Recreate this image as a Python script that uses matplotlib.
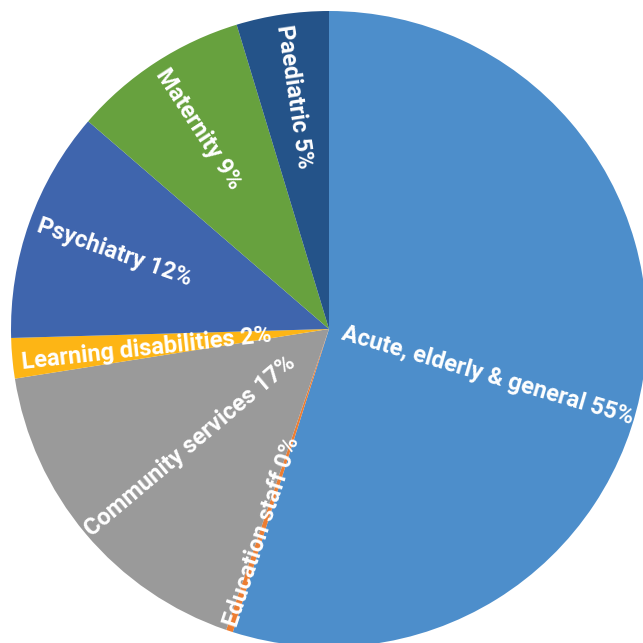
import numpy as np
import matplotlib
matplotlib.use("Agg")
import matplotlib.pyplot as plt

# Staff share by service area (percent)
services = [
    "Acute, elderly & general",
    "Education staff",
    "Community services",
    "Learning disabilities",
    "Psychiatry",
    "Maternity",
    "Paediatric",
]
shares = [55.0, 0.35, 17.3, 2.05, 11.8, 9.0, 4.7]

colors = ["#4d8ecb", "#ed7d31", "#9a9a9a", "#fdb515", "#3f65ad", "#67a13e", "#245389"]

# label placement: radius as fraction of pie radius, angular nudge in degrees
label_radius = [0.52, 0.67, 0.57, 0.576, 0.716, 0.752, 0.738]
label_nudge = [-7.5, 0.0, 0.0, 1.0, 0.0, 0.0, 0.0]

plt.rcParams["font.family"] = ["Roboto", "DejaVu Sans"]

fig = plt.figure(figsize=(6.43, 6.43), dpi=100)
ax = fig.add_axes([0, 0, 1, 1])

wedges, _ = ax.pie(shares, colors=colors, startangle=90, counterclock=False,
                   radius=1.0, wedgeprops=dict(linewidth=0))

for w, name, val, r, nudge in zip(wedges, services, shares, label_radius, label_nudge):
    mid = (w.theta1 + w.theta2) / 2.0 + nudge
    rad = np.deg2rad(mid)
    x, y = r * np.cos(rad), r * np.sin(rad)
    rot = mid if np.cos(rad) >= 0 else mid + 180
    rot = (rot + 180) % 360 - 180
    ax.text(x, y, f"{name} {round(val):.0f}%", color="white", fontsize=17,
            fontweight="bold", ha="center", va="center", rotation=rot,
            rotation_mode="anchor")

# pie centre sits at (329, 329) px with a 318 px radius
ax.set_xlim(-329 / 318, (643 - 329) / 318)
ax.set_ylim(-(643 - 329) / 318, 329 / 318)
ax.set_aspect("equal")
ax.axis("off")

fig.savefig("out.png", dpi=100, facecolor="white")
